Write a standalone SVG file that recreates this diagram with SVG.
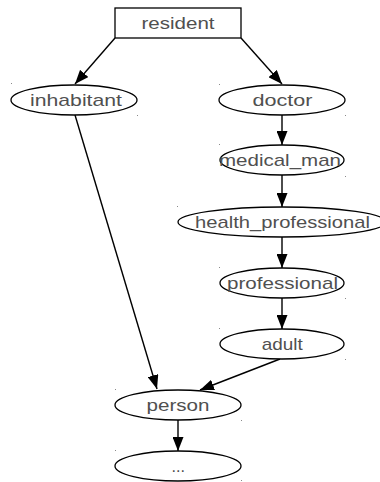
<svg xmlns="http://www.w3.org/2000/svg" width="380" height="482" viewBox="0 0 380 482">
  <style>
    .shape { fill: #ffffff; stroke: #000000; stroke-width: 1.3; }
    .label { font-family: "Liberation Sans", Arial, sans-serif; font-size: 17px; fill: #505050; text-anchor: middle; }
    .edge { fill: none; stroke: #000000; stroke-width: 1.4; marker-end: url(#arrow); }
    .dot { fill: #8a8a8a; }
  </style>
  <defs>
    <marker id="arrow" markerUnits="userSpaceOnUse" markerWidth="14" markerHeight="11" refX="14" refY="5.5" orient="auto">
      <path d="M0,0 L14,5.5 L0,11 z" fill="#000000"/>
    </marker>
  </defs>
  <rect width="380" height="482" fill="#ffffff"/>

  <g id="connectors">
    <line class="edge" x1="115" y1="38" x2="75" y2="84"/>
    <line class="edge" x1="241" y1="38" x2="282" y2="84"/>
    <line class="edge" x1="282" y1="115" x2="282" y2="145"/>
    <line class="edge" x1="282" y1="175" x2="282" y2="207"/>
    <line class="edge" x1="282" y1="237" x2="282" y2="268"/>
    <line class="edge" x1="282" y1="298" x2="282" y2="329"/>
    <line class="edge" x1="75" y1="115" x2="157" y2="389"/>
    <line class="edge" x1="280" y1="359" x2="200" y2="390"/>
    <line class="edge" x1="178" y1="420" x2="178" y2="451"/>
  </g>

  <g id="resident">
    <rect class="shape" x="115" y="8" width="126" height="30"/>
    <text class="label" x="178" y="29" textLength="73" lengthAdjust="spacingAndGlyphs">resident</text>
  </g>
  <g id="inhabitant">
    <ellipse class="shape" cx="74" cy="100" rx="63" ry="15"/>
    <text class="label" x="76" y="105.5" textLength="92" lengthAdjust="spacingAndGlyphs">inhabitant</text>
    <rect class="dot" x="11" y="83" width="1" height="1"/>
    <rect class="dot" x="137" y="115" width="1" height="1"/>
  </g>
  <g id="doctor">
    <ellipse class="shape" cx="282" cy="100" rx="63" ry="15"/>
    <text class="label" x="282.5" y="105.5" textLength="60" lengthAdjust="spacingAndGlyphs">doctor</text>
    <rect class="dot" x="219" y="84" width="1" height="1"/>
    <rect class="dot" x="345" y="115" width="1" height="1"/>
  </g>
  <g id="medical_man">
    <ellipse class="shape" cx="282" cy="160" rx="62" ry="15"/>
    <text class="label" x="280" y="165.5" textLength="122" lengthAdjust="spacingAndGlyphs">medical_man</text>
    <rect class="dot" x="219" y="144" width="1" height="1"/>
    <rect class="dot" x="345" y="176" width="1" height="1"/>
  </g>
  <g id="health_professional">
    <ellipse class="shape" cx="282" cy="222" rx="104" ry="15"/>
    <text class="label" x="282.5" y="227.5" textLength="175" lengthAdjust="spacingAndGlyphs">health_professional</text>
    <rect class="dot" x="177" y="206" width="1" height="1"/>
  </g>
  <g id="professional">
    <ellipse class="shape" cx="282" cy="283" rx="62" ry="15"/>
    <text class="label" x="282.5" y="288.5" textLength="111" lengthAdjust="spacingAndGlyphs">professional</text>
    <rect class="dot" x="219" y="267" width="1" height="1"/>
    <rect class="dot" x="345" y="298" width="1" height="1"/>
  </g>
  <g id="adult">
    <ellipse class="shape" cx="282" cy="344" rx="62" ry="15"/>
    <text class="label" x="282.3" y="349.5" textLength="41" lengthAdjust="spacingAndGlyphs">adult</text>
    <rect class="dot" x="219" y="328" width="1" height="1"/>
    <rect class="dot" x="345" y="359" width="1" height="1"/>
  </g>
  <g id="person">
    <ellipse class="shape" cx="178" cy="405" rx="63" ry="15"/>
    <text class="label" x="178" y="410.5" textLength="63" lengthAdjust="spacingAndGlyphs">person</text>
    <rect class="dot" x="115" y="389" width="1" height="1"/>
    <rect class="dot" x="241" y="420" width="1" height="1"/>
  </g>
  <g id="ellipsis">
    <ellipse class="shape" cx="178" cy="466" rx="63" ry="15"/>
    <text class="label" x="178.3" y="472" textLength="13.5" lengthAdjust="spacingAndGlyphs">...</text>
    <rect class="dot" x="115" y="450" width="1" height="1"/>
    <rect class="dot" x="241" y="480" width="1" height="1"/>
  </g>
</svg>
